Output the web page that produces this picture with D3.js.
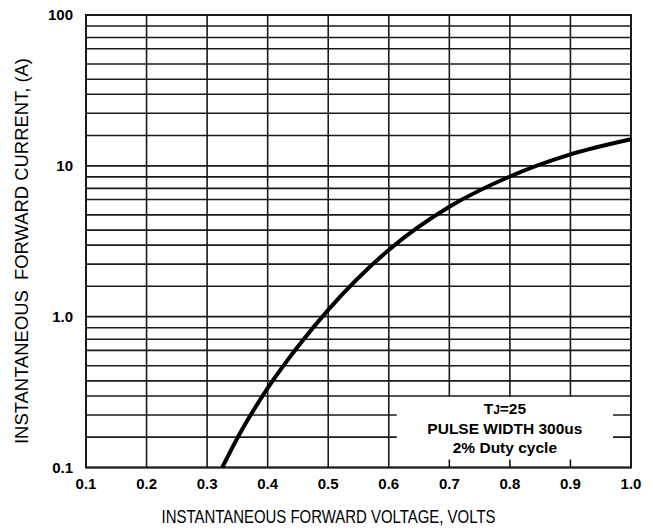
<!DOCTYPE html>
<html>
<head>
<meta charset="utf-8">
<script src="https://cdn.jsdelivr.net/npm/d3@7"></script>
<style>
  body { margin: 0; background: #fff; }
  svg { display: block; }
  text { font-family: "Liberation Sans", Arial, sans-serif; fill: #000; }
</style>
</head>
<body>
<svg id="chart" width="653" height="531"></svg>
<script>
// forward voltage (V) vs instantaneous forward current (A)
const voltage = [0.325, 0.35, 0.4, 0.45, 0.5, 0.6, 0.7, 0.8, 0.9, 1.0];
const current = [0.1, 0.157, 0.336, 0.634, 1.11, 2.77, 5.35, 8.5, 11.9, 15.0];

// axis ticks
const xTicks = [0.1, 0.2, 0.3, 0.4, 0.5, 0.6, 0.7, 0.8, 0.9, 1.0];
const yTicks = [0.1, 1, 10, 100];
const yTickLabels = ["0.1", "1.0", "10", "100"];
// minor grid lines inside each decade, as drawn (not a true log spacing)
const gridSteps = [1.59, 2.23, 2.98, 3.75, 4.73, 5.98, 7.09, 8.45];

const legendLines = ["PULSE WIDTH 300us", "2% Duty cycle"];

const svg = d3.select("#chart");
const margin = {top: 15, right: 22, bottom: 63.5, left: 86},
  width = 653 - margin.left - margin.right,
  height = 531 - margin.top - margin.bottom;

const x = d3.scaleLinear().domain([0.1, 1.0]).range([0, width]);
const y = d3.scaleLog().domain([0.1, 100]).range([height, 0]);

const g = svg.append("g")
  .attr("transform", "translate(" + margin.left + "," + margin.top + ")");

// grid values
const yGrid = [];
yTicks.slice(0, 3).forEach(function(dec) {
  yGrid.push(dec);
  gridSteps.forEach(s => yGrid.push(dec * s));
});
yGrid.push(100);

const gridColor = "#1a1a1a";

g.append("g").selectAll("line")
  .data(yGrid)
  .join("line")
  .attr("x1", 0).attr("x2", width)
  .attr("y1", d => y(d)).attr("y2", d => y(d))
  .attr("stroke", gridColor)
  .attr("stroke-width", 1.6);

g.append("g").selectAll("line")
  .data(xTicks)
  .join("line")
  .attr("x1", d => x(d)).attr("x2", d => x(d))
  .attr("y1", 0).attr("y2", height)
  .attr("stroke", gridColor)
  .attr("stroke-width", 1.6);

// frame
g.append("rect")
  .attr("x", 0).attr("y", 0)
  .attr("width", width).attr("height", height)
  .attr("fill", "none")
  .attr("stroke", gridColor)
  .attr("stroke-width", 2);

// curve
const line = d3.line()
  .x((d, i) => x(voltage[i]))
  .y(d => y(d))
  .curve(d3.curveMonotoneX);

g.append("path")
  .datum(current)
  .attr("d", line)
  .attr("fill", "none")
  .attr("stroke", "#000")
  .attr("stroke-width", 4)
  .attr("stroke-linejoin", "round");

// legend box: sits on the 0.6 V line and the 3rd minor line of the lowest decade
const boxX0 = x(0.6), boxX1 = x(1.0), boxY0 = y(0.1 * gridSteps[2]), boxY1 = y(0.1);
g.append("rect")
  .attr("x", boxX0 + 8)
  .attr("y", boxY0 + 1)
  .attr("width", boxX1 - boxX0 - 26)
  .attr("height", boxY1 - boxY0 - 9)
  .attr("fill", "#fff");

const legendCx = (boxX0 + boxX1) / 2 - 5;
const tj = g.append("text")
  .attr("x", legendCx)
  .attr("y", boxY0 + 18.5)
  .attr("text-anchor", "middle")
  .attr("font-size", "15.5px")
  .attr("font-weight", "bold");
tj.append("tspan").text("T");
tj.append("tspan").attr("font-size", "12px").text("J");
tj.append("tspan").text("=25");

g.selectAll(".legendLine")
  .data(legendLines)
  .join("text")
  .attr("class", "legendLine")
  .attr("x", legendCx)
  .attr("y", (d, i) => boxY0 + 38.5 + i * 19)
  .attr("text-anchor", "middle")
  .attr("font-size", "15.5px")
  .attr("font-weight", "bold")
  .text(d => d);

// tick labels
g.selectAll(".xlab")
  .data(xTicks)
  .join("text")
  .attr("class", "xlab")
  .attr("x", d => x(d))
  .attr("y", height + 21.5)
  .attr("text-anchor", "middle")
  .attr("font-size", "15px")
  .attr("font-weight", "bold")
  .text(d => d.toFixed(1));

g.selectAll(".ylab")
  .data(yTicks)
  .join("text")
  .attr("class", "ylab")
  .attr("x", -13)
  .attr("y", d => y(d))
  .attr("dy", "0.36em")
  .attr("text-anchor", "end")
  .attr("font-size", "15px")
  .attr("font-weight", "bold")
  .text((d, i) => yTickLabels[i]);

// axis titles
svg.append("text")
  .attr("x", 328.5)
  .attr("y", 523)
  .attr("text-anchor", "middle")
  .attr("font-size", "18px")
  .attr("textLength", 334)
  .attr("lengthAdjust", "spacingAndGlyphs")
  .text("INSTANTANEOUS FORWARD VOLTAGE, VOLTS");

svg.append("text")
  .attr("transform", "translate(28,251) rotate(-90)")
  .attr("text-anchor", "middle")
  .attr("font-size", "17.5px")
  .attr("textLength", 386)
  .attr("lengthAdjust", "spacingAndGlyphs")
  .style("white-space", "pre")
  .text("INSTANTANEOUS  FORWARD CURRENT, (A)");
</script>
</body>
</html>
